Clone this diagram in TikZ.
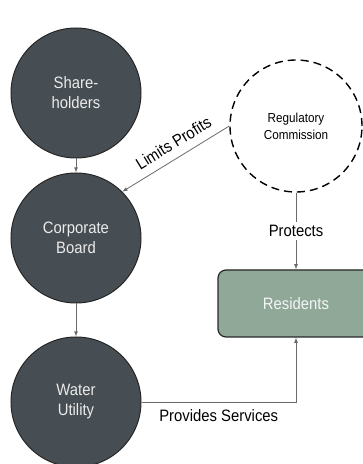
\documentclass[tikz,border=0pt]{standalone}
\usepackage{fontspec}
\setmainfont{Liberation Sans}[FakeStretch=0.9]
\usetikzlibrary{arrows}
\definecolor{slate}{HTML}{464E53}
\definecolor{sage}{HTML}{90A898}
\definecolor{wire}{HTML}{6A6A6A}
\tikzset{
  >=latex,
  party/.style={circle,draw=black!85,line width=1pt,fill=slate,text=white!92!black,
    minimum size=130pt,align=center,font=\fontsize{16.5}{20}\selectfont},
  flow/.style={->,draw=wire,line width=0.8pt},
  lbl/.style={font=\fontsize{16.5}{20}\selectfont}
}

\begin{document}
\begin{tikzpicture}[x=1pt,y=1pt]
      \useasboundingbox (0,0) rectangle (363,464);
      \node[party] (share) at (76,371) {Share-\\holders};
      \node[party] (board) at (76,226) {Corporate\\Board};
      \node[party] (water) at (76,62) {Water\\Utility};
      \node[circle,draw,dashed,dash pattern=on 8pt off 5pt,line width=1.4pt,
        minimum size=132pt,align=center,font=\fontsize{13}{17}\selectfont]
        (reg) at (296,338) {Regulatory\\Commission};
      \node[draw=black!85,line width=1.2pt,rounded corners=8pt,fill=sage,
        text=white!90!sage,minimum width=156pt,minimum height=67pt,
        font=\fontsize{16.5}{20}\selectfont] (res) at (296,160.5) {Residents};
      \draw[flow] (share)--(board);
      \draw[flow] (board)--(water);
      \draw[flow] (reg.west)--(board.45)
      node[lbl,pos=.45,sloped,above=5pt]{Limits Profits};
      \draw[flow] (reg.south)--(res.north)
      node[lbl,midway,fill=white]{Protects};
      \draw[flow] (water.east)-|(res.south)
      node[lbl,pos=.25,below=4pt]{Provides Services};
    \end{tikzpicture}
\end{document}
